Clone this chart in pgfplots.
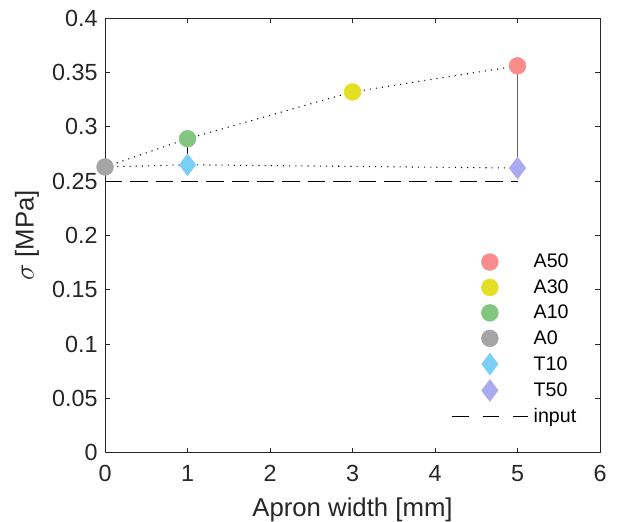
\documentclass[border=0pt]{standalone}
\usepackage{pgfplots}
\pgfplotsset{compat=1.18}
\usepackage{fontspec}
\setmainfont{Liberation Sans}
\usetikzlibrary{calc}
\definecolor{cA50}{RGB}{250,140,140}
\definecolor{cA30}{RGB}{230,222,35}
\definecolor{cA10}{RGB}{130,198,128}
\definecolor{cA0}{RGB}{165,165,165}
\definecolor{cT10}{RGB}{122,207,245}
\definecolor{cT50}{RGB}{170,170,240}
\definecolor{axgray}{RGB}{38,38,38}
\tikzset{
	dotline/.style={black, line width=0.8pt, dash pattern=on 0.8pt off 3.8pt},
	inputdash/.style={black, line width=0.8pt, dash pattern=on 13pt off 6pt},
}
\pgfplotsset{
	markleg/.style={legend image code/.code={%
		\path[draw=none] (-0.7cm,0cm) -- (1.3cm,0cm);
		\draw[##1] plot coordinates {(0.3cm,0cm)};}},
}
\begin{document}
\begin{tikzpicture}
\begin{axis}[
	name=ax,
	width=371pt, height=326pt,
	scale only axis,
	xmin=0, xmax=6, ymin=0, ymax=0.4,
	xtick={0,1,...,6},
	ytick={0,0.05,...,0.4},
	/pgf/number format/assume math mode=true,
	tick align=inside,
	major tick length=4pt,
	axis line style={axgray, line width=0.7pt},
	every tick/.style={axgray, line width=0.7pt},
	tick label style={font=\fontsize{17.5}{20}\selectfont, color=axgray},
	xticklabel style={yshift=-6pt},
	yticklabel style={xshift=-2pt, /pgf/number format/.cd, fixed, precision=2},
	label style={font=\fontsize{19.3}{22}\selectfont, color=axgray},
	xlabel={Apron width [mm]},
	ylabel={$\sigma$ [MPa]},
	xlabel style={yshift=-5pt},
	ylabel style={yshift=3pt},
	legend style={draw=none, fill=none, at={(0.966,0.052)}, anchor=south east,
		cells={anchor=west}, row sep=3.3pt, column sep=2pt,
		font=\fontsize{14.7}{17}\selectfont},
	clip=false,
]
% connecting lines
\addplot[dotline, forget plot] coordinates {(0,0.263) (1,0.289) (3,0.332) (5,0.356)};
\addplot[dotline, forget plot] coordinates {(0,0.263) (1,0.265) (5,0.262)};
\addplot[black, line width=1pt, forget plot] coordinates {(1,0.289) (1,0.265)};
\addplot[black!60, line width=1.3pt, forget plot] coordinates {(5,0.356) (5,0.262)};
\addplot[inputdash, forget plot] coordinates {(0,0.25) (5,0.25)};
% markers
\addplot[only marks, mark=*, mark size=6.3pt, mark options={draw=cA50, fill=cA50}, markleg] coordinates {(5,0.356)};
\addlegendentry{A50}
\addplot[only marks, mark=*, mark size=6.3pt, mark options={draw=cA30, fill=cA30}, markleg] coordinates {(3,0.332)};
\addlegendentry{A30}
\addplot[only marks, mark=*, mark size=6.3pt, mark options={draw=cA10, fill=cA10}, markleg] coordinates {(1,0.289)};
\addlegendentry{A10}
\addplot[only marks, mark=*, mark size=6.3pt, mark options={draw=cA0, fill=cA0}, markleg] coordinates {(0,0.263)};
\addlegendentry{A0}
\addplot[only marks, mark=diamond*, mark size=8.2pt, mark options={draw=cT10, fill=cT10}, markleg] coordinates {(1,0.265)};
\addlegendentry{T10}
\addplot[only marks, mark=diamond*, mark size=8.2pt, mark options={draw=cT50, fill=cT50}, markleg] coordinates {(5,0.262)};
\addlegendentry{T50}
\addlegendimage{legend image code/.code={\draw[inputdash, dash pattern=on 12.5pt off 10.5pt] (-0.7cm,0cm) -- (1.3cm,0cm);}}
\addlegendentry{input}
\end{axis}
\pgfresetboundingbox
\path ($(ax.south west)+(-78.75pt,-51.75pt)$) rectangle ($(ax.north east)+(15pt,13.5pt)$);
\end{tikzpicture}
\end{document}
